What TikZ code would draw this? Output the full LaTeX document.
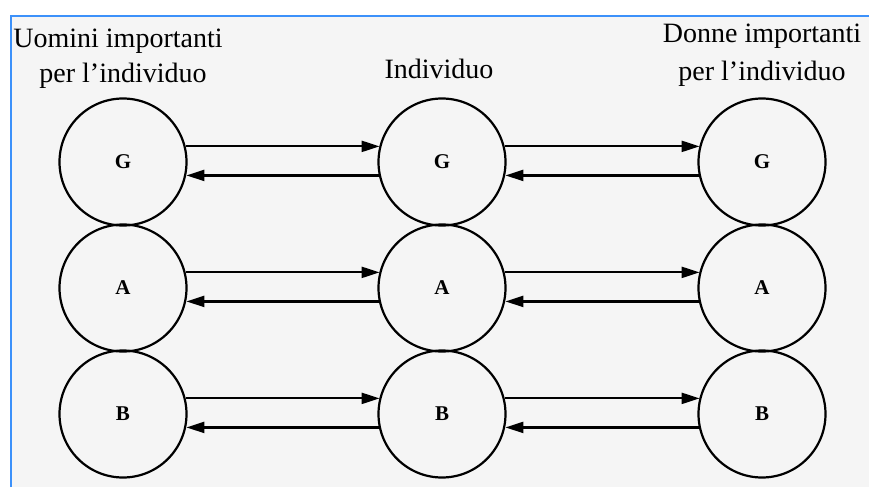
\documentclass[tikz,border=0pt]{standalone}
\usepackage{fontspec}
\setmainfont{Liberation Serif}
\usetikzlibrary{arrows.meta}
\definecolor{framebl}{RGB}{60,145,250}
\definecolor{paper}{RGB}{245,245,245}
\tikzset{
  ring/.style={circle,draw,line width=2.2pt,minimum size=127pt,inner sep=0pt,
    font=\fontsize{21}{23}\selectfont\bfseries},
  conn/.style={line width=2.2pt,-{Triangle[length=18pt,width=11pt]}},
  title/.style={anchor=base,font=\fontsize{28}{32}\selectfont,inner sep=0pt}
}
\begin{document}
\begin{tikzpicture}[x=1pt,y=-1pt]
\useasboundingbox (0,0) rectangle (869,487);
\fill[white] (0,0) rectangle (869,487);
\fill[paper] (11,16) rectangle (869,487);
\draw[framebl,line width=2.5pt] (11,487) -- (11,16) -- (869,16);

\node[title] (t1) at (118,48) {Uomini importanti};
\node[title] (t2) at (123,82) {per l’individuo};
\node[title] (t3) at (439,78) {Individuo};
\node[title] (t4) at (762,43) {Donne importanti};
\node[title] (t5) at (762,80) {per l’individuo};

\foreach \c/\x in {L/123,M/442,R/762}{
  \node[ring] (\c G) at (\x,162) {G};
  \node[ring] (\c A) at (\x,288) {A};
  \node[ring] (\c B) at (\x,414) {B};
}

\foreach \r in {G,A,B}{
  \draw[conn] (L\r.14.5) -- (L\r.14.5 -| M\r.165.5);
  \draw[conn] (M\r.-168.3) -- (M\r.-168.3 -| L\r.-11.7);
  \draw[conn] (M\r.14.5) -- (M\r.14.5 -| R\r.165.5);
  \draw[conn] (R\r.-168.3) -- (R\r.-168.3 -| M\r.-11.7);
}
\end{tikzpicture}
\end{document}
